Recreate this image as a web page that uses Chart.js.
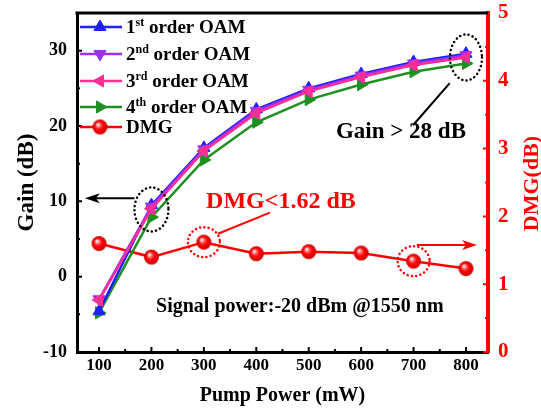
<!DOCTYPE html>
<html>
<head>
<meta charset="utf-8">
<script src="https://cdn.jsdelivr.net/npm/chart.js@4.4.0/dist/chart.umd.min.js"></script>
<style>
  html, body { margin: 0; padding: 0; background: #fff; }
</style>
</head>
<body>
<canvas id="gainChart" width="541" height="413"></canvas>
<script>
// Data
const pumpPower = [100, 200, 300, 400, 500, 600, 700, 800];
const gain1st = [-4.6, 9.5, 17.1, 22.2, 25.0, 26.9, 28.5, 29.6];
const gain2nd = [-3.0, 9.3, 16.9, 22.0, 24.8, 26.7, 28.3, 29.4];
const gain3rd = [-3.1, 9.0, 16.7, 21.7, 24.6, 26.5, 28.1, 29.1];
const gain4th = [-4.8, 7.9, 15.5, 20.5, 23.5, 25.5, 27.2, 28.3];
const dmg = [1.60, 1.40, 1.62, 1.45, 1.48, 1.46, 1.34, 1.23];

const xTicks = [100, 200, 300, 400, 500, 600, 700, 800];
const gainTicks = [-10, 0, 10, 20, 30];
const dmgTicks = [0, 1, 2, 3, 4, 5];

const SERIF = "'Liberation Serif', 'Times New Roman', serif";
const RED = "#ff0000";

// Red ball marker with a shiny highlight
function buatBola(r) {
  const c = document.createElement("canvas");
  const s = Math.ceil(r * 2) + 2;
  c.width = s;
  c.height = s;
  const g = c.getContext("2d");
  const cx = s / 2, cy = s / 2;
  const grad = g.createRadialGradient(cx - r * 0.3, cy - r * 0.35, r * 0.05, cx, cy, r);
  grad.addColorStop(0, "#ffffff");
  grad.addColorStop(0.22, "#ff8080");
  grad.addColorStop(0.5, "#ff0a0a");
  grad.addColorStop(1, "#c80000");
  g.fillStyle = grad;
  g.beginPath();
  g.arc(cx, cy, r, 0, Math.PI * 2);
  g.fill();
  return c;
}
const bola = buatBola(7.5);

function toPoints(arr) {
  return pumpPower.map((x, i) => ({ x: x, y: arr[i] }));
}

const seriesGain = [
  { label: "1st order OAM", data: gain1st, color: "#1f1fff", rot: 0, order: 2 },
  { label: "2nd order OAM", data: gain2nd, color: "#9a32f0", rot: 180, order: 1 },
  { label: "3rd order OAM", data: gain3rd, color: "#ff2d96", rot: 270, order: 0 },
  { label: "4th order OAM", data: gain4th, color: "#1f8f1f", rot: 90, order: 3 },
];

const datasets = seriesGain.map((s) => ({
  label: s.label,
  data: toPoints(s.data),
  borderColor: s.color,
  backgroundColor: s.color,
  borderWidth: 2.5,
  pointStyle: "triangle",
  rotation: s.rot,
  pointRadius: 7,
  pointBorderWidth: 1,
  yAxisID: "y",
  order: s.order,
}));
datasets.push({
  label: "DMG",
  data: toPoints(dmg),
  borderColor: RED,
  backgroundColor: RED,
  borderWidth: 2.5,
  pointStyle: bola,
  pointRadius: 7.5,
  yAxisID: "y2",
  order: 4,
});

// Inside ticks, top frame line, right axis title
const frameTicks = {
  id: "frameTicks",
  afterDraw(chart) {
    const { ctx, chartArea: a, scales } = chart;
    ctx.save();
    ctx.lineWidth = 2;
    ctx.strokeStyle = "#000";
    ctx.beginPath();
    for (let v = 100; v <= 800; v += 50) {
      const x = scales.x.getPixelForValue(v);
      const len = v % 100 === 0 ? 5 : 3;
      ctx.moveTo(x, a.bottom);
      ctx.lineTo(x, a.bottom - len);
    }
    for (let v = -10; v <= 35; v += 5) {
      const y = scales.y.getPixelForValue(v);
      const len = v % 10 === 0 ? 5 : 3;
      ctx.moveTo(a.left, y);
      ctx.lineTo(a.left + len, y);
    }
    ctx.stroke();
    ctx.strokeStyle = RED;
    ctx.beginPath();
    for (let v = 0; v <= 5; v += 0.5) {
      const y = scales.y2.getPixelForValue(v);
      const len = Math.abs(v - Math.round(v)) < 0.01 ? 5 : 3;
      ctx.moveTo(a.right, y);
      ctx.lineTo(a.right - len, y);
    }
    ctx.stroke();

    // top border
    ctx.lineWidth = 3;
    ctx.strokeStyle = "#000";
    ctx.beginPath();
    ctx.moveTo(a.left - 1.5, a.top);
    ctx.lineTo(a.right, a.top);
    ctx.stroke();

    // right axis title, reads bottom to top
    ctx.translate(532, (a.top + a.bottom) / 2 + 1);
    ctx.rotate(-Math.PI / 2);
    ctx.fillStyle = RED;
    ctx.font = "bold 22px " + SERIF;
    ctx.textAlign = "center";
    ctx.textBaseline = "middle";
    ctx.fillText("DMG(dB)", 0, 0);
    ctx.restore();
  },
};

function dottedEllipse(ctx, cx, cy, rx, ry, color) {
  ctx.save();
  ctx.strokeStyle = color;
  ctx.lineWidth = 2.5;
  ctx.lineCap = "round";
  ctx.setLineDash([0.1, 4.2]);
  ctx.beginPath();
  ctx.ellipse(cx, cy, rx, ry, 0, 0, Math.PI * 2);
  ctx.stroke();
  ctx.restore();
}

function arrow(ctx, x1, y, x2, color) {
  const dir = x2 > x1 ? 1 : -1;
  ctx.save();
  ctx.strokeStyle = color;
  ctx.fillStyle = color;
  ctx.lineWidth = 2;
  ctx.beginPath();
  ctx.moveTo(x1, y);
  ctx.lineTo(x2 - dir * 10, y);
  ctx.stroke();
  ctx.beginPath();
  ctx.moveTo(x2, y);
  ctx.lineTo(x2 - dir * 15, y - 5);
  ctx.lineTo(x2 - dir * 11, y);
  ctx.lineTo(x2 - dir * 15, y + 5);
  ctx.closePath();
  ctx.fill();
  ctx.restore();
}

function line(ctx, x1, y1, x2, y2, color) {
  ctx.save();
  ctx.strokeStyle = color;
  ctx.lineWidth = 2;
  ctx.beginPath();
  ctx.moveTo(x1, y1);
  ctx.lineTo(x2, y2);
  ctx.stroke();
  ctx.restore();
}

function mean(arr) {
  return arr.reduce((a, b) => a + b, 0) / arr.length;
}

// Callouts and notes
const callouts = {
  id: "callouts",
  afterDatasetsDraw(chart) {
    const { ctx, scales } = chart;
    const X = (v) => scales.x.getPixelForValue(v);
    const Y = (v) => scales.y.getPixelForValue(v);
    const Y2 = (v) => scales.y2.getPixelForValue(v);

    const i200 = pumpPower.indexOf(200);
    const i800 = pumpPower.indexOf(800);
    const g200 = mean([gain1st[i200], gain2nd[i200], gain3rd[i200], gain4th[i200]]);
    const g800 = mean([gain1st[i800], gain2nd[i800], gain3rd[i800], gain4th[i800]]);

    dottedEllipse(ctx, X(200), Y(g200), 17, 22, "#000");
    dottedEllipse(ctx, X(800), Y(g800), 16, 23, "#000");
    dottedEllipse(ctx, X(300), Y2(dmg[pumpPower.indexOf(300)]), 16, 15, RED);
    dottedEllipse(ctx, X(700), Y2(dmg[pumpPower.indexOf(700)]), 16, 15, RED);

    arrow(ctx, X(200) - 17, Y(10.4), X(73), "#000");
    arrow(ctx, X(706), Y2(1.58), X(821), RED);

    line(ctx, X(699), Y(20.1), X(769), Y(25.7), "#000");
    line(ctx, X(426), Y(8.5), X(327), Y(5.7), RED);

    ctx.save();
    ctx.textAlign = "center";
    ctx.textBaseline = "middle";
    ctx.fillStyle = RED;
    ctx.font = "bold 24px " + SERIF;
    ctx.fillText("DMG<1.62 dB", X(447), Y(10));
    ctx.fillStyle = "#000";
    ctx.font = "bold 23px " + SERIF;
    ctx.fillText("Gain > 28 dB", X(676), Y(19.2));
    ctx.font = "bold 20px " + SERIF;
    ctx.fillText("Signal power:-20 dBm @1550 nm", X(483), Y(-4));
    ctx.restore();
  },
};

// Legend with superscript ordinals
const legendSup = {
  id: "legendSup",
  afterDraw(chart) {
    const { ctx, chartArea: a } = chart;
    const rows = [14, 41, 68, 94, 114];
    const draw = Chart.helpers && Chart.helpers.drawPoint;
    ctx.save();
    chart.data.datasets.forEach((ds, i) => {
      const y = a.top + rows[i];
      const x0 = a.left + 3;
      ctx.strokeStyle = ds.borderColor;
      ctx.fillStyle = ds.backgroundColor;
      ctx.lineWidth = 2.5;
      ctx.beginPath();
      ctx.moveTo(x0, y);
      ctx.lineTo(x0 + 42, y);
      ctx.stroke();
      if (draw) {
        ctx.lineWidth = 1;
        draw(ctx, {
          pointStyle: ds.pointStyle,
          rotation: ds.rotation || 0,
          radius: ds.pointRadius,
          borderWidth: 1,
        }, x0 + 20, y);
      }

      ctx.fillStyle = "#000";
      ctx.textBaseline = "alphabetic";
      ctx.textAlign = "left";
      let tx = a.left + 49;
      const base = y + 6;
      const m = ds.label.match(/^(\d+)(st|nd|rd|th)(.*)$/);
      ctx.font = "bold 19px " + SERIF;
      if (m) {
        ctx.fillText(m[1], tx, base);
        tx += ctx.measureText(m[1]).width;
        ctx.font = "bold 12px " + SERIF;
        ctx.fillText(m[2], tx, base - 7);
        tx += ctx.measureText(m[2]).width;
        ctx.font = "bold 19px " + SERIF;
        ctx.fillText(m[3], tx, base);
      } else {
        ctx.fillText(ds.label, tx, base);
      }
    });
    ctx.restore();
  },
};

function fixedTicks(list) {
  return (scale) => {
    scale.ticks = list.map((v) => ({ value: v }));
  };
}

// fixed box size for each axis, no extra label padding
function fixedSize(w, h) {
  return (s) => {
    if (w) s.width = w;
    if (h) s.height = h;
    s.paddingTop = 0;
    s.paddingBottom = 0;
  };
}

function buatChart() {
  const ctx = document.getElementById("gainChart").getContext("2d");
  new Chart(ctx, {
    type: "line",
    data: { datasets: datasets },
    options: {
      responsive: false,
      animation: false,
      layout: { padding: { top: 13, left: 0, right: 0, bottom: 0 } },
      plugins: {
        legend: { display: false },
        tooltip: { enabled: false },
      },
      scales: {
        x: {
          type: "linear",
          min: 58,
          max: 842,
          afterBuildTicks: fixedTicks(xTicks),
          afterFit: fixedSize(0, 61),
          grid: { display: false, drawTicks: false },
          border: { display: true, color: "#000", width: 3 },
          ticks: {
            color: "#000",
            padding: 3,
            font: { family: SERIF, size: 17, weight: "bold" },
          },
          title: {
            display: true,
            text: "Pump Power (mW)",
            color: "#000",
            padding: { top: 0, bottom: 5 },
            font: { family: SERIF, size: 20, weight: "bold" },
          },
        },
        y: {
          position: "left",
          min: -10,
          max: 35,
          afterBuildTicks: fixedTicks(gainTicks),
          afterFit: fixedSize(77, 0),
          grid: { display: false, drawTicks: false },
          border: { display: true, color: "#000", width: 3 },
          ticks: {
            color: "#000",
            padding: 10,
            font: { family: SERIF, size: 18, weight: "bold" },
          },
          title: {
            display: true,
            text: "Gain (dB)",
            color: "#000",
            padding: { top: 13, bottom: 0 },
            font: { family: SERIF, size: 23, weight: "bold" },
          },
        },
        y2: {
          position: "right",
          min: 0,
          max: 5,
          afterBuildTicks: fixedTicks(dmgTicks),
          afterFit: fixedSize(53, 0),
          grid: { display: false, drawTicks: false },
          border: { display: true, color: RED, width: 4 },
          ticks: {
            color: RED,
            padding: 10,
            font: { family: SERIF, size: 21, weight: "bold" },
          },
        },
      },
    },
    plugins: [frameTicks, callouts, legendSup],
  });
}

document.addEventListener("DOMContentLoaded", function () {
  buatChart();
});
</script>
</body>
</html>
